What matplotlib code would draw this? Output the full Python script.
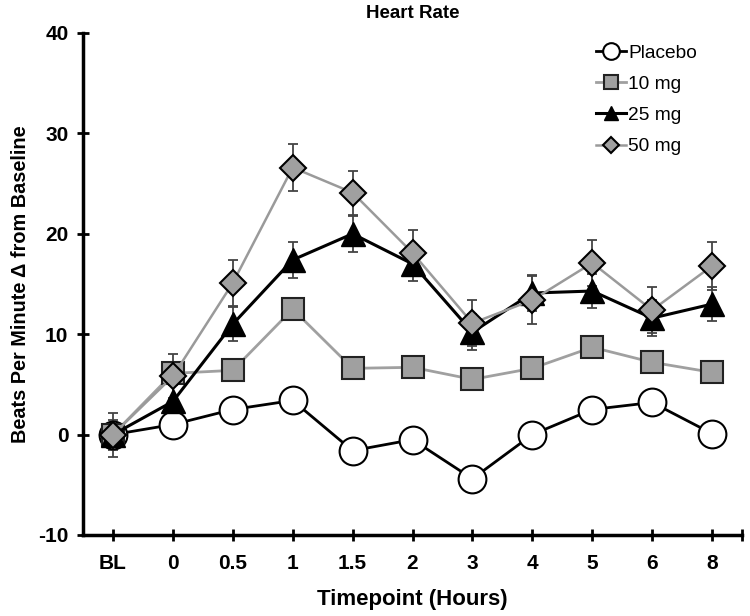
import matplotlib
matplotlib.use("Agg")
import matplotlib.pyplot as plt
import numpy as np

plt.rcParams['font.family'] = ['Liberation Sans', 'DejaVu Sans']
plt.rcParams['font.weight'] = 'bold'
plt.rcParams['axes.unicode_minus'] = False

timepoints = ["BL", "0", "0.5", "1", "1.5", "2", "3", "4", "5", "6", "8"]
placebo = [0.0, 1.0, 2.5, 3.4, -1.6, -0.5, -4.4, 0.0, 2.5, 3.2, 0.1]
mg10 = [0.0, 6.1, 6.4, 12.5, 6.6, 6.7, 5.5, 6.6, 8.7, 7.2, 6.2]
mg25 = [0.0, 3.3, 11.0, 17.4, 20.0, 17.0, 10.2, 14.1, 14.3, 11.6, 13.0]
mg50 = [0.0, 5.8, 15.1, 26.6, 24.1, 18.1, 11.1, 13.4, 17.1, 12.4, 16.8]
err25 = [1.5, 1.6, 1.7, 1.8, 1.8, 1.7, 1.8, 1.8, 1.7, 1.8, 1.7]
err50 = [2.2, 2.2, 2.3, 2.3, 2.2, 2.3, 2.3, 2.4, 2.3, 2.3, 2.4]

x = np.arange(len(timepoints))

fig = plt.figure(figsize=(7.5, 6.16), dpi=100)
ax = fig.add_axes([83/750, 1-535/616, (742-83)/750, (535-33)/616])

ecol = '#444444'
ax.errorbar(x, mg50, yerr=err50, fmt='none', ecolor=ecol, elinewidth=1.3, capsize=3.5, capthick=1.3, zorder=2)
ax.errorbar(x, mg25, yerr=err25, fmt='none', ecolor=ecol, elinewidth=1.3, capsize=3.5, capthick=1.3, zorder=2)

ax.plot(x, placebo, color='black', lw=2, marker='o', ms=20, mfc='white', mec='black', mew=1.5,
        label='Placebo', zorder=3)
ax.plot(x, mg10, color='#a0a0a0', lw=2, marker='s', ms=16, mfc='#a0a0a0', mec='#222222', mew=1.5,
        label='10 mg', zorder=4)
ax.plot(x, mg25, color='black', lw=2.2, marker='^', ms=17, mfc='black', mec='black', mew=1,
        label='25 mg', zorder=5)
ax.plot(x, mg50, color='#9a9a9a', lw=1.8, marker='D', ms=13, mfc='#a0a0a0', mec='black', mew=1.5,
        label='50 mg', zorder=6)

ax.set_xlim(-0.5, 10.5)
ax.set_ylim(-10, 40)
ax.set_xticks(x)
ax.set_xticklabels(timepoints)
ax.set_xticks([10.5], minor=True)
ax.set_yticks([-10, 0, 10, 20, 30, 40])

for s in ['top', 'right']:
    ax.spines[s].set_visible(False)
ax.spines['left'].set_linewidth(2.5)
ax.spines['bottom'].set_linewidth(2.5)
ax.tick_params(axis='both', which='both', direction='inout', length=9, width=2, labelsize=15)
ax.tick_params(axis='x', pad=9)
ax.tick_params(axis='y', pad=6)

ax.set_xlabel('Timepoint (Hours)', fontsize=16, fontweight='bold', labelpad=12)
ax.set_ylabel('Beats Per Minute Δ from Baseline', fontsize=14.3, fontweight='bold', labelpad=6)
ax.set_title('Heart Rate', fontsize=13.5, fontweight='bold', pad=11)

leg = ax.legend(loc='upper left', bbox_to_anchor=((588-83)/659, 0.993), frameon=False, fontsize=13.8,
                markerscale=0.6, handlelength=1.6, handletextpad=0.1, labelspacing=0.72,
                borderaxespad=0)
for t in leg.get_texts():
    t.set_fontweight('normal')

fig.savefig('out.png', dpi=100)
